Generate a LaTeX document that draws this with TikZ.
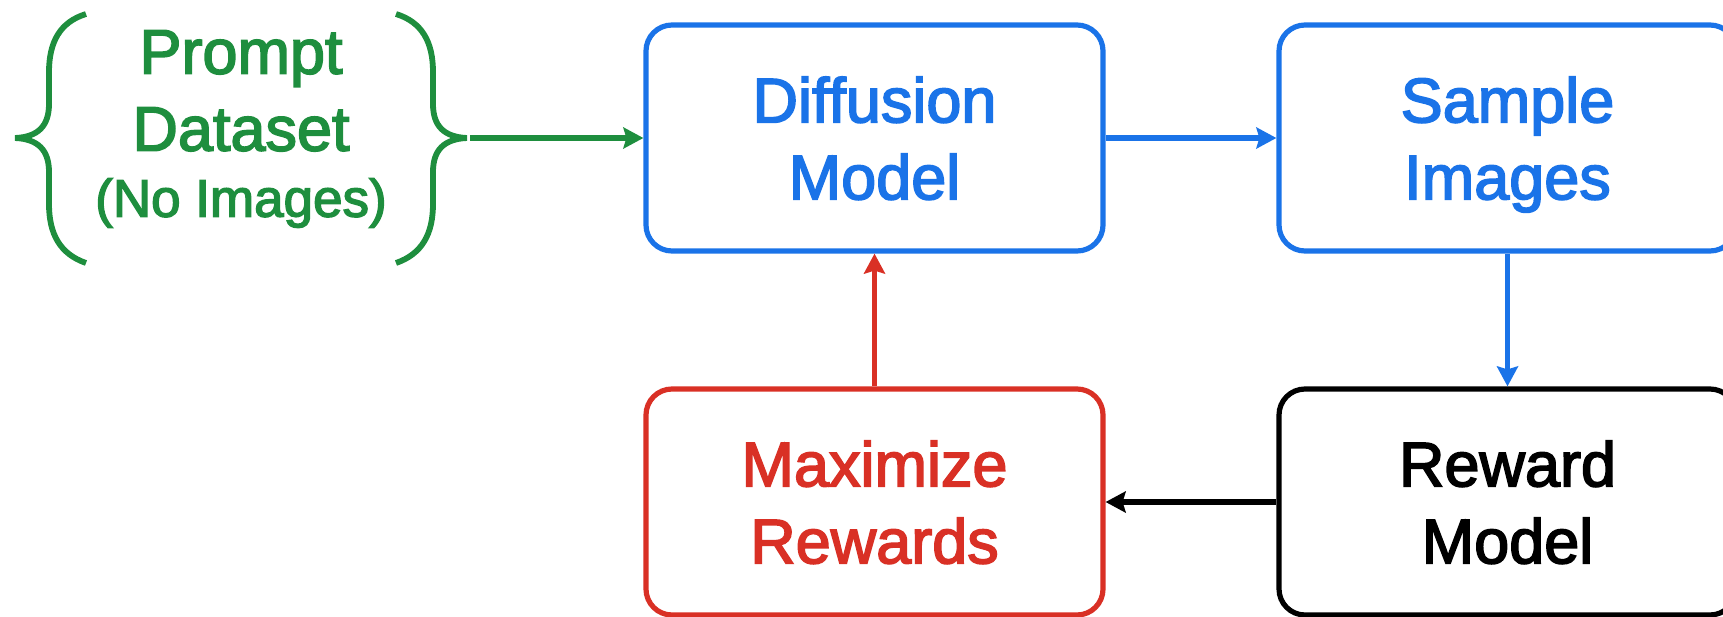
\documentclass[tikz,border=0pt]{standalone}
\usepackage{fontspec}
\setmainfont{Liberation Sans}
\newfontfamily\labelfont[FakeBold=2.6]{Liberation Sans}
\usetikzlibrary{arrows.meta}
\definecolor{gGreen}{HTML}{1E8E3E}
\definecolor{gBlue}{HTML}{1A73E8}
\definecolor{gRed}{HTML}{D93025}
\begin{document}
\begin{tikzpicture}[x=0.5pt,y=-0.5pt,
  stepbox/.style={draw, rounded corners=13pt, line width=2.6pt,
    minimum width=228.5pt, minimum height=113pt, inner sep=0pt, text depth=0pt,
    align=center, font=\labelfont\fontsize{31.5}{38.5}\selectfont},
  link/.style={line width=2.7pt, -{Stealth[length=10pt,width=10.5pt,inset=1.5pt]}},
  brace/.style={gGreen, line width=2.9pt}]
\clip (0,0) rectangle (1723,616);
% process boxes
\node[stepbox, draw=gBlue, text=gBlue] (diff) at (874.5,138) {Diffusion\\Model};
\node[stepbox, draw=gBlue, text=gBlue] (samp) at (1507.5,138) {Sample\\Images};
\node[stepbox, draw=black, text=black] (rew) at (1507.5,502) {Reward\\Model};
\node[stepbox, draw=gRed, text=gRed] (maxr) at (874.5,502) {Maximize\\Rewards};
% prompt set
\node[text=gGreen, align=center, inner sep=0pt, font=\labelfont\fontsize{31.5}{38.5}\selectfont]
  (prompt) at (241,129) {Prompt\\Dataset\\[-5.5pt]{\fontsize{26.5}{30}\selectfont (No Images)}};
\draw[brace] (86,14) .. controls (60,22) and (49,42) .. (49,72) -- (49,104)
  .. controls (49,126) and (38,137) .. (15,138)
  .. controls (38,139) and (49,150) .. (49,172) -- (49,204)
  .. controls (49,234) and (60,254) .. (86,263);
\draw[brace] (396,14) .. controls (422,22) and (433,42) .. (433,72) -- (433,104)
  .. controls (433,126) and (444,137) .. (467,138)
  .. controls (444,139) and (433,150) .. (433,172) -- (433,204)
  .. controls (433,234) and (422,254) .. (396,263);
\coordinate (rtip) at (470,138);
% connectors
\draw[link, gGreen] (rtip) -- (diff.west);
\draw[link, gBlue] (diff.east) -- (samp.west);
\draw[link, gBlue] (samp.south) -- (rew.north);
\draw[link, black] (rew.west) -- (maxr.east);
\draw[link, gRed] (maxr.north) -- (diff.south);
\end{tikzpicture}
\end{document}
